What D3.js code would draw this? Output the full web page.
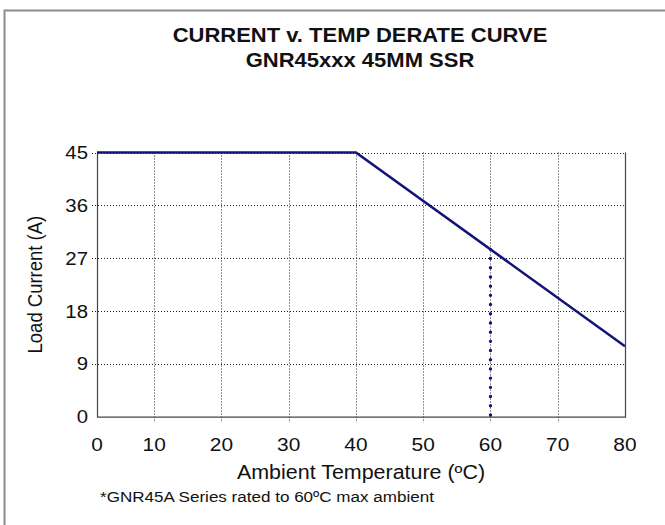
<!DOCTYPE html>
<html>
<head>
<meta charset="UTF-8">
<title>Derate curve</title>
<style>
body { margin: 0; background: #fff; }
text { font-family: Arial, "Liberation Sans", sans-serif; fill: #111; }
</style>
</head>
<body>
<script src="https://cdn.jsdelivr.net/npm/d3@7"></script>
<script>
// chart data
var temps = [0, 40, 80];          // deg C
var current = [45, 45, 12];       // A
var ratedTemp = 60;               // GNR45A max ambient
var xTicks = [0, 10, 20, 30, 40, 50, 60, 70, 80];
var yTicks = [0, 9, 18, 27, 36, 45];
var titleLines = ["CURRENT v. TEMP DERATE CURVE", "GNR45xxx 45MM SSR"];
var xTitle = "Ambient Temperature (\u00baC)";
var yTitle = "Load Current (A)";
var footnote = "*GNR45A Series rated to 60\u00baC max ambient";

var width = 665, height = 525;
// note: "top" is window.top, can't reuse it
var plotL = 97, plotR = 625, plotT = 152.5, plotB = 416.7;
var stretch = 1.1; // source image is a bit wide

var svg = d3.select("body").append("svg")
  .attr("width", width)
  .attr("height", height);

svg.append("rect").attr("width", width).attr("height", height).attr("fill", "#fff");

// outer frame (runs off the right and bottom)
svg.append("path")
  .attr("d", "M4.5," + height + "V10.5H" + width)
  .attr("fill", "none")
  .attr("stroke", "#8c8c8c")
  .attr("stroke-width", 2);

// excel puts the first category a little left of the plot edge
var x = d3.scaleLinear().domain([1.5, 80]).range([plotL, plotR]);
var y = d3.scaleLinear().domain([0, 45]).range([plotB, plotT]);

var stretched = function(sel, tx, ty) {
  return sel.attr("transform", "translate(" + tx + "," + ty + ") scale(" + stretch + ",1)");
};

// title
titleLines.forEach(function(t, i) {
  stretched(svg.append("text"), 360, 42 + i * 24.5)
    .attr("text-anchor", "middle")
    .attr("font-size", 20)
    .attr("font-weight", "bold")
    .text(t);
});

// grid
var grid = svg.append("g")
  .attr("stroke", "#222")
  .attr("stroke-width", 1)
  .attr("stroke-dasharray", "1,2");
grid.selectAll(".gx").data(xTicks.slice(1, -1)).enter().append("line")
  .attr("x1", function(d){ return Math.round(x(d)) + 0.5; })
  .attr("x2", function(d){ return Math.round(x(d)) + 0.5; })
  .attr("y1", plotT).attr("y2", plotB + 6);
grid.selectAll(".gy").data(yTicks.slice(1)).enter().append("line")
  .attr("y1", function(d){ return Math.round(y(d)) + 0.5; })
  .attr("y2", function(d){ return Math.round(y(d)) + 0.5; })
  .attr("x1", plotL - 5).attr("x2", plotR);

// axis frame: left, bottom, right solid
svg.append("path")
  .attr("d", "M" + (plotL + 0.5) + "," + plotT + "V" + (plotB + 0.5) + "H" + (plotR + 0.5) + "V" + plotT)
  .attr("fill", "none")
  .attr("stroke", "#444")
  .attr("stroke-width", 1.2);

// tick labels
svg.append("g").selectAll("text").data(xTicks).enter().append("text")
  .attr("transform", function(d){
    return "translate(" + Math.max(x(d), plotL) + ",451) scale(" + stretch + ",1)";
  })
  .attr("text-anchor", "middle")
  .attr("font-size", 19)
  .text(function(d){ return d; });

svg.append("g").selectAll("text").data(yTicks).enter().append("text")
  .attr("transform", function(d){
    return "translate(88," + (y(d) + 6.5) + ") scale(" + stretch + ",1)";
  })
  .attr("text-anchor", "end")
  .attr("font-size", 18.5)
  .text(function(d){ return d; });

// axis titles
stretched(svg.append("text"), 361, 479)
  .attr("text-anchor", "middle")
  .attr("font-size", 19.5)
  .text(xTitle);

svg.append("text")
  .attr("transform", "translate(42," + ((plotT + plotB) / 2) + ") rotate(-90) scale(1," + stretch + ")")
  .attr("text-anchor", "middle")
  .attr("font-size", 18.5)
  .text(yTitle);

stretched(svg.append("text"), 100, 502)
  .attr("font-size", 15.5)
  .attr("fill", "#222")
  .text(footnote);

// derate line
svg.append("clipPath").attr("id", "plot")
  .append("rect").attr("x", plotL).attr("y", plotT - 3).attr("width", plotR - plotL).attr("height", plotB - plotT + 6);

var pts = temps.map(function(t, i){ return [t, current[i]]; });
var line = d3.line()
  .x(function(d){ return x(d[0]); })
  .y(function(d){ return y(d[1]); });

svg.append("path")
  .datum(pts)
  .attr("clip-path", "url(#plot)")
  .attr("d", line)
  .attr("fill", "none")
  .attr("stroke", "#13137a")
  .attr("stroke-width", 2.6);

// rated limit marker: dotted drop at 60C
var at60 = d3.scaleLinear().domain(temps.slice(1)).range(current.slice(1))(ratedTemp);
svg.append("line")
  .attr("x1", x(ratedTemp)).attr("x2", x(ratedTemp))
  .attr("y1", y(at60)).attr("y2", y(0))
  .attr("stroke", "#13137a")
  .attr("stroke-width", 3.4)
  .attr("stroke-linecap", "round")
  .attr("stroke-dasharray", "0,9.2");
</script>
</body>
</html>
